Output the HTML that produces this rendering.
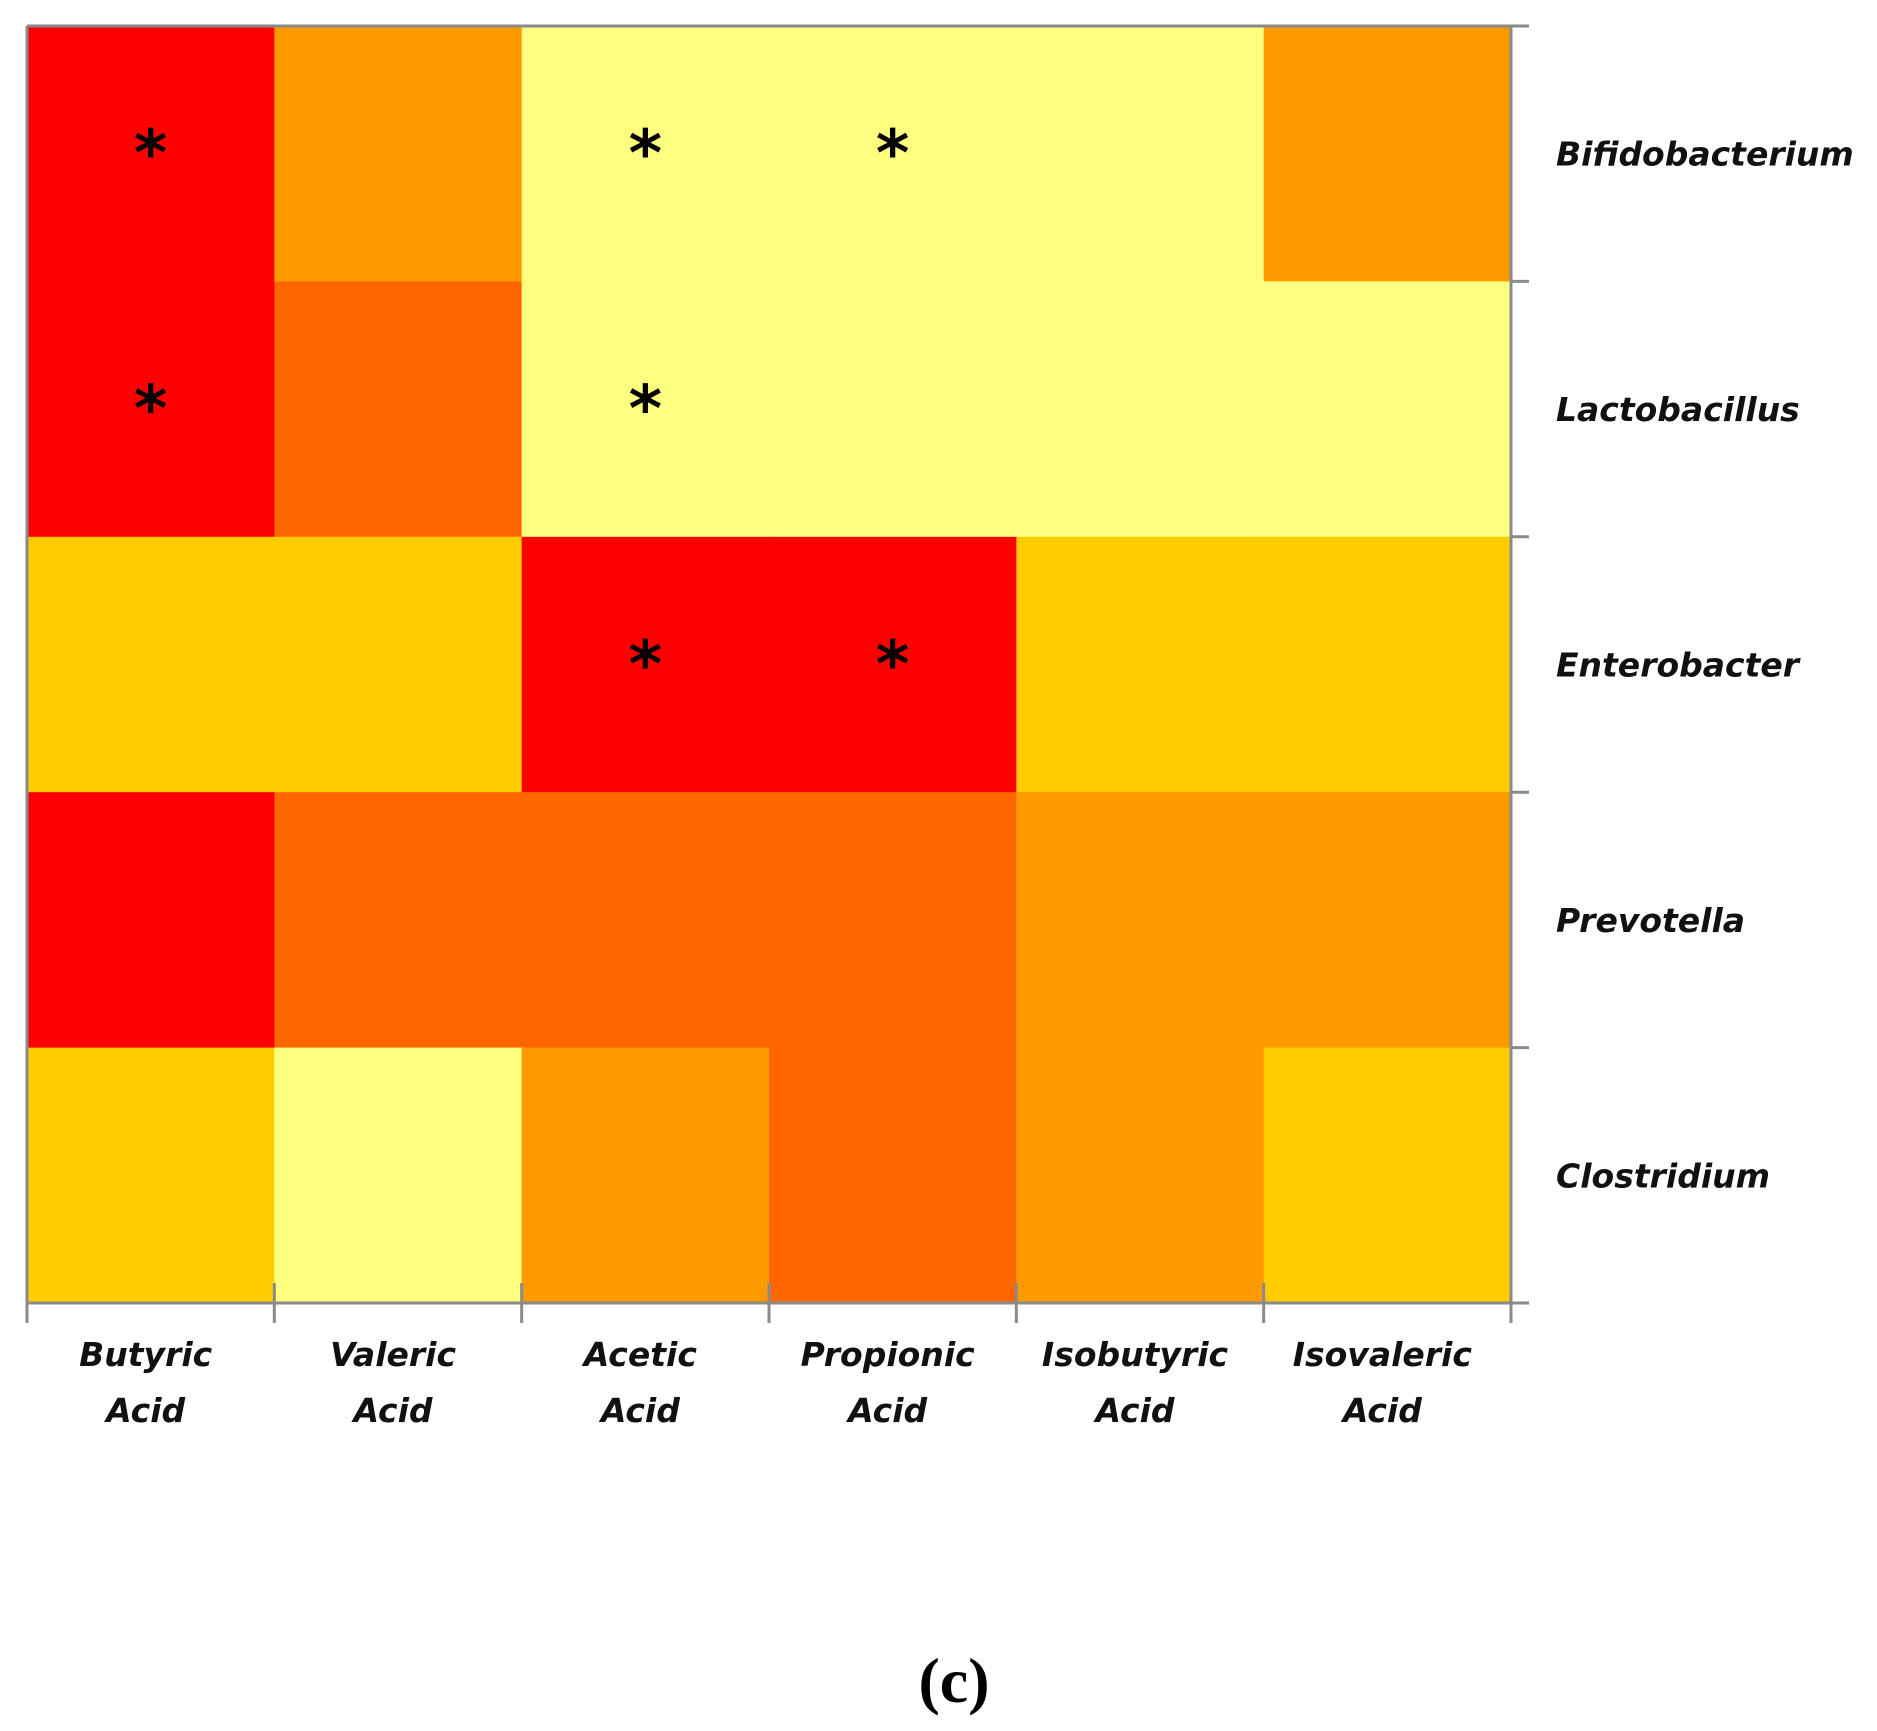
<!DOCTYPE html>
<html><head><meta charset="utf-8"><style>
html,body{margin:0;padding:0;background:#fff;}
svg{display:block;}
.lbl{font-family:"DejaVu Sans","Liberation Sans",sans-serif;font-style:italic;font-weight:bold;font-size:33px;fill:#111;}
</style></head><body>
<svg id="chart" width="1877" height="1731" viewBox="0 0 1877 1731" xmlns="http://www.w3.org/2000/svg">
<g id="cells"></g>
<g id="axes"></g>
<g id="labels"></g>
<text x="954" y="1702" text-anchor="middle" font-family="Liberation Serif, serif" font-weight="bold" font-size="64">(c)</text>
</svg>
<script>
const columns = [["Butyric","Acid"],["Valeric","Acid"],["Acetic","Acid"],["Propionic","Acid"],["Isobutyric","Acid"],["Isovaleric","Acid"]];
const rows = ["Bifidobacterium","Lactobacillus","Enterobacter","Prevotella","Clostridium"];
const levels = [
  [4,2,0,0,0,2],
  [4,3,0,0,0,0],
  [1,1,4,4,1,1],
  [4,3,3,3,2,2],
  [1,0,2,3,2,1]
];
const stars = [[0,0],[0,2],[0,3],[1,0],[1,2],[2,2],[2,3]];
const palette = ["#FFFF80","#FFCC00","#FF9900","#FF6600","#FF0000"];

const L=27,T=26,R=1511,B=1303;
const cw=(R-L)/columns.length, rh=(B-T)/rows.length;
const xS=c=>L+c*cw, yS=r=>T+r*rh;
const NS="http://www.w3.org/2000/svg";
function mk(tag,attrs,parent){const e=document.createElementNS(NS,tag);for(const k in attrs)e.setAttribute(k,attrs[k]);parent.appendChild(e);return e;}
const cells=document.getElementById('cells'),axes=document.getElementById('axes'),labels=document.getElementById('labels');
levels.forEach((row,r)=>row.forEach((v,c)=>{
  const el=mk('rect',{x:xS(c),y:yS(r),width:cw+0.5,height:rh+0.5,fill:palette[v]},cells);
  
  
}));
stars.forEach(([r,c])=>{
  const el=mk('text',{x:xS(c)+cw/2,y:yS(r)+rh/2+22,'text-anchor':'middle','font-family':'DejaVu Sans, sans-serif','font-weight':'bold','font-size':'64',fill:'#000'},cells);
  el.textContent='*';
  
  
});
const g='#8a8a8a';
mk('line',{x1:L,y1:T,x2:R+18,y2:T,stroke:g,'stroke-width':3},axes);
mk('line',{x1:L,y1:T,x2:L,y2:B+20,stroke:g,'stroke-width':3},axes);
mk('line',{x1:R,y1:T,x2:R,y2:B+20,stroke:g,'stroke-width':3},axes);
mk('line',{x1:L,y1:B,x2:R+18,y2:B,stroke:g,'stroke-width':3},axes);
for(let c=1;c<columns.length;c++){
  const el=mk('line',{x1:xS(c),y1:B-20,x2:xS(c),y2:B+20,stroke:g,'stroke-width':3},axes);
  
  
}
for(let r=1;r<rows.length;r++){
  const el=mk('line',{x1:R,y1:yS(r),x2:R+18,y2:yS(r),stroke:g,'stroke-width':3},axes);
  
  
}
rows.forEach((name,r)=>{
  const el=mk('text',{x:1556,y:yS(r)+rh/2+12,'class':'lbl'},labels);
  el.textContent=name;
  
  
});
columns.forEach((lines,c)=>{
  lines.forEach((t,i)=>{
    const el=mk('text',{x:xS(c)+cw/2-5,y:1366+i*56,'text-anchor':'middle','class':'lbl'},labels);
    el.textContent=t;
    
    
  });
});
</script>
</body></html>
